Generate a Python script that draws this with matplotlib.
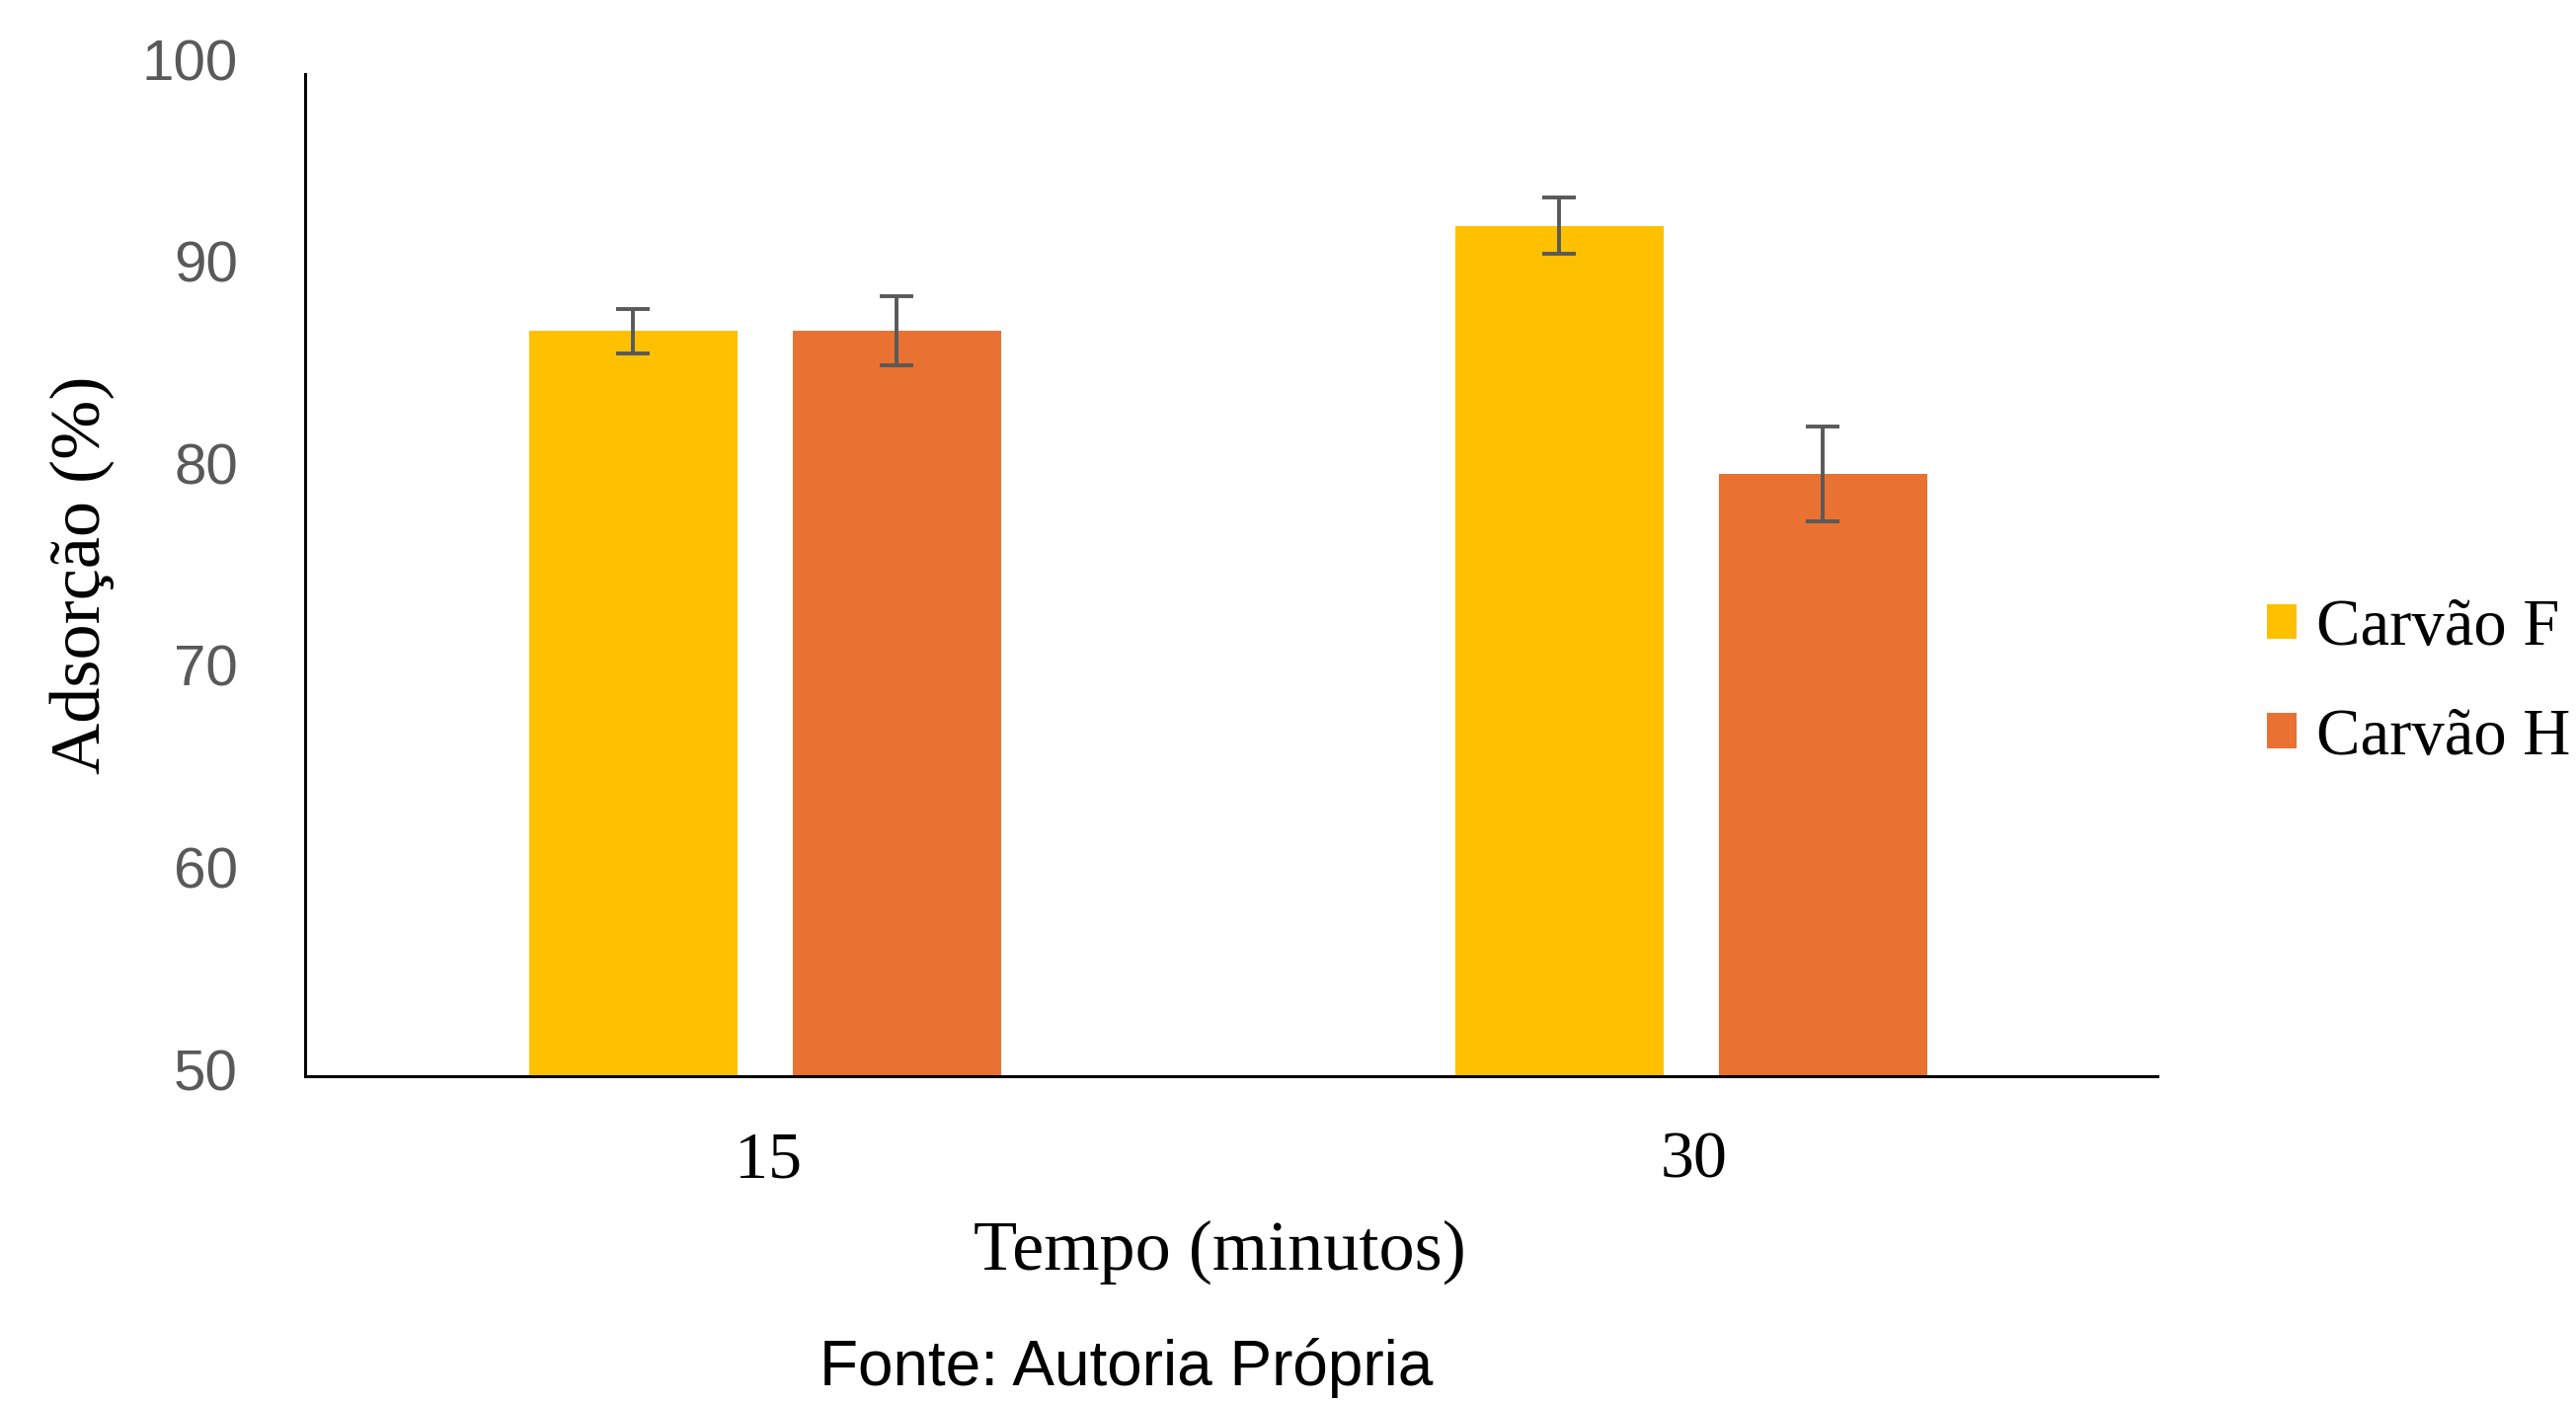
import numpy as np
import matplotlib
matplotlib.use("Agg")
import matplotlib.pyplot as plt
import matplotlib.transforms as mtrans

categories = ["15", "30"]
series_names = ["Carvão F", "Carvão H"]
carvao_f = [86.9, 92.1]
carvao_h = [86.9, 79.8]
err_f = [1.1, 1.4]
err_h = [1.7, 2.35]
yticks = [50, 60, 70, 80, 90, 100]

W, H = 2609, 1421
fig = plt.figure(figsize=(W / 100, H / 100), dpi=100)
ax = fig.add_axes([309 / W, 1 - 1090 / H, (2185 - 309) / W, (1090 - 67) / H])

x = np.arange(len(categories))
bw = 0.225
colors = ["#FFC000", "#E97132"]
offsets = [-0.146, 0.139]
ekw = dict(ecolor="#595959", elinewidth=2.8, capsize=12, capthick=2.8)
ax.bar(x + offsets[0], carvao_f, bw, bottom=0, color=colors[0], label=series_names[0],
       yerr=err_f, error_kw=ekw, zorder=2)
ax.bar(x + offsets[1], carvao_h, bw, bottom=0, color=colors[1], label=series_names[1],
       yerr=err_h, error_kw=ekw, zorder=2)

ax.set_xlim(-0.5, 1.5)
ax.set_ylim(50, 100)
ax.set_yticks(yticks)
ax.set_yticklabels([str(t) for t in yticks], fontfamily="Liberation Sans", fontsize=42, color="#595959")
ax.set_xticks(x)
ax.set_xticklabels(categories, fontfamily="Liberation Serif", fontsize=49, color="black")
ax.tick_params(axis="y", length=0, pad=49)
ax.tick_params(axis="x", length=0, pad=40)
shift = mtrans.ScaledTranslation(0, 5 / 72, fig.dpi_scale_trans)
for lbl in ax.get_yticklabels():
    lbl.set_transform(lbl.get_transform() + shift)
for s in ["top", "right"]:
    ax.spines[s].set_visible(False)
for s in ["left", "bottom"]:
    ax.spines[s].set_linewidth(2.2)
    ax.spines[s].set_color("black")
ax.spines["left"].set_bounds(50, 99.6)

fig.text(83 / W, 1 - 582 / H, "Adsorção (%)", rotation=90, ha="center", va="center",
         fontfamily="Liberation Serif", fontsize=52)
fig.text(1235 / W, 1 - 1268 / H, "Tempo (minutos)", ha="center", va="center",
         fontfamily="Liberation Serif", fontsize=52)
fig.text(1141 / W, 1 - 1385 / H, "Fonte: Autoria Própria", ha="center", va="center",
         fontfamily="Liberation Sans", fontsize=46)

leg = ax.legend(loc="center left", bbox_to_anchor=(2296 / W, 1 - 692 / H),
                bbox_transform=fig.transFigure, frameon=False,
                prop={"family": "Liberation Serif", "size": 48},
                handlelength=0.45, handleheight=0.45, handletextpad=0.3,
                labelspacing=0.74, borderpad=0, borderaxespad=0)

fig.savefig("out.png", dpi=100)
